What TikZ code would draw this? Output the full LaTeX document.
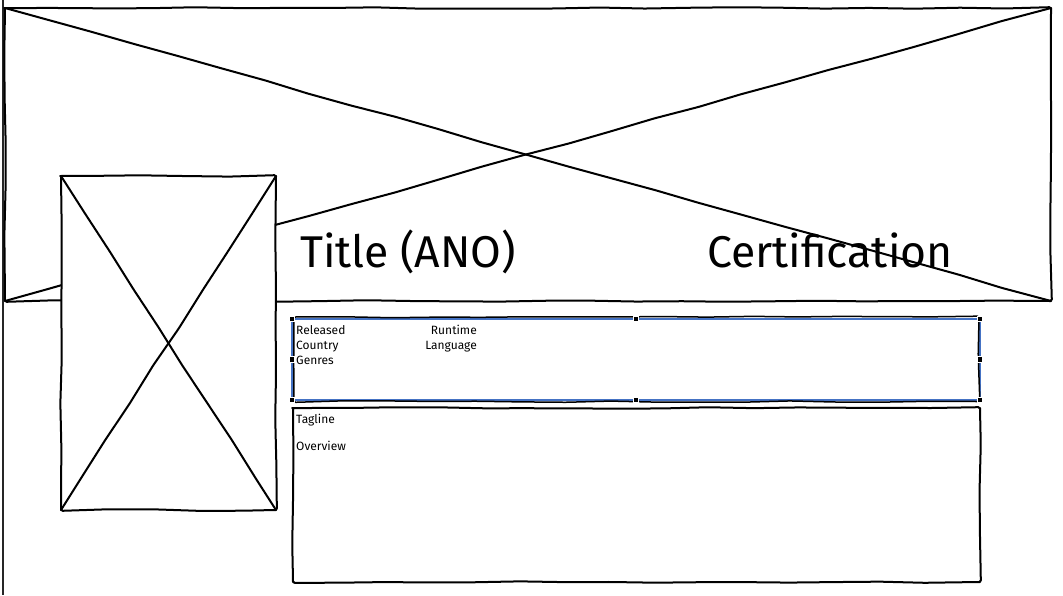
\documentclass[tikz,border=0pt]{standalone}
\usepackage{fontspec}
\setmainfont{Fira Sans}
\usetikzlibrary{decorations.pathmorphing}
\definecolor{selblue}{RGB}{68,114,196}
\begin{document}
\begin{tikzpicture}[x=1pt,y=-1pt,
  sk/.style={line width=2pt, line join=round, line cap=round, decorate,
    decoration={random steps, segment length=45pt, amplitude=0.8pt}, rounded corners=1.5pt},
  area/.style={inner sep=0pt, outer sep=0pt, anchor=north west},
  small/.style={font=\fontsize{12}{13}\selectfont, inner sep=0pt},
  big/.style={font=\fontsize{44.5}{48}\selectfont, inner sep=0pt},
  handle/.style={fill=black, draw=white, line width=0.6pt, minimum size=5.5pt, inner sep=0pt}]
\useasboundingbox (0,0) rectangle (1063,595);
\fill[white] (0,0) rectangle (1063,595);
% left page border
\coordinate (lt) at (2.8,0);
\coordinate (lb) at (2.8,595);
\draw[line width=2pt, black!85] (lt) -- (lb);
% hero image placeholder
\node[area, minimum width=1046pt, minimum height=293pt] (hero) at (5,8) {};
\draw[sk] (hero.north west) rectangle (hero.south east);
\draw[sk] (hero.north west) -- (hero.south east);
\draw[sk] (hero.south west) -- (hero.north east);
% poster placeholder
\node[area, minimum width=215pt, minimum height=334pt] (poster) at (61,176) {};
\fill[white] (poster.north west) rectangle (poster.south east);
\draw[sk] (poster.north west) rectangle (poster.south east);
\draw[sk] (poster.north west) -- (poster.south east);
\draw[sk] (poster.north east) -- (poster.south west);
% title texts
\node[big, anchor=base west] (title) at (300,267) {Title (ANO)};
\node[big, anchor=base west] (cert) at (707,267) {Certification};
% info box (selected)
\node[area, minimum width=688pt, minimum height=81pt] (info) at (292,319) {};
\draw[selblue, line width=1.8pt] (info.north west) rectangle (info.south east);
\draw[sk, line width=1.5pt] ([xshift=2pt,yshift=2pt]info.north west) rectangle ([xshift=-1pt,yshift=-1.5pt]info.south east);
\node[small, anchor=base west] (rel) at (296,334) {Released};
\node[small, anchor=base west] (cty) at (296,349) {Country};
\node[small, anchor=base west] (gen) at (296,364) {Genres};
\node[small, anchor=base east] (run) at (477,334) {Runtime};
\node[small, anchor=base east] (lang) at (477,349) {Language};
% handles
\node[handle] (h1) at (info.north west) {};
\node[handle] (h2) at (info.north) {};
\node[handle] (h3) at (info.north east) {};
\node[handle] (h4) at (info.west) {};
\node[handle] (h5) at (info.east) {};
\node[handle] (h6) at (info.south west) {};
\node[handle] (h7) at (info.south) {};
\node[handle] (h8) at (info.south east) {};
% overview box
\node[area, minimum width=687pt, minimum height=174pt] (ovbox) at (293,408) {};
\draw[sk] (ovbox.north west) rectangle (ovbox.south east);
\node[small, anchor=base west] (tag) at (296,423) {Tagline};
\node[small, anchor=base west] (ov) at (296,450) {Overview};
\end{tikzpicture}
\end{document}
